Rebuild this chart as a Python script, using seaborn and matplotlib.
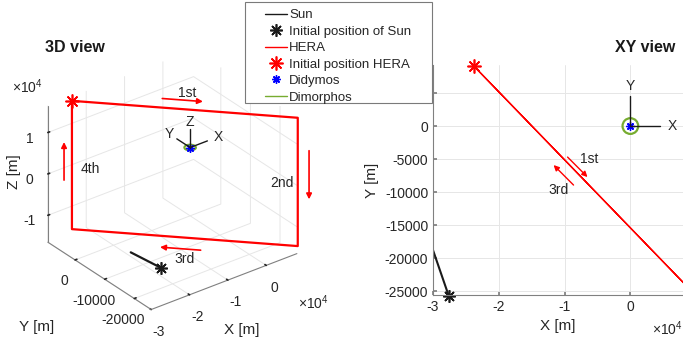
import matplotlib
matplotlib.use('Agg')
import matplotlib.pyplot as plt
import seaborn as sns
from matplotlib.lines import Line2D
from matplotlib.patches import Circle, Rectangle
from matplotlib.ticker import FuncFormatter
from mpl_toolkits.mplot3d import art3d, proj3d

# ---- values (metres) ----
hera_x = [-23800, 9000, 9000, -23800, -23800]
hera_y = [9100, -24700, -24700, 9100, 9100]
hera_z = [15500, 15500, -15500, -15500, 15500]

sun_x = [-27600, -30000]
sun_y = [-25750, -18800]
sun_z = [-7200, -5900]

didymos_xyz = [0, 0, 0]
dimorphos_radius = 1190
frame_len = 4500

legend_labels = ['Sun', 'Initial position of Sun', 'HERA',
                 'Initial position HERA', 'Didymos', 'Dimorphos']

x_lim = (-30000, 8000)
y_lim = (-25700, 9200)
z_lim = (-16500, 16500)

# leg labels: (t, z) start, (t, z) end, (t, z) text, t = fraction along 1st leg
legs_3d = {
    '1st': ((0.40, 17700), (0.58, 17700), (0.51, 19400)),
    '2nd': ((1.05, 7750), (1.05, -4000), (0.93, -500)),
    '3rd': ((0.57, -18250), (0.39, -18250), (0.50, -20600)),
    '4th': ((-0.035, -3800), (-0.035, 5400), (0.08, -650)),
}
legs_xy = {
    '1st': ((-9545, -4700), (-6515, -7730), (-6200, -5000)),
    '3rd': ((-8640, -8940), (-11670, -5910), (-10900, -9700)),
}

RED = (1, 0, 0)
BLUE = (0, 0, 1)
GREEN = (0.466, 0.674, 0.188)
AX_COL = '#808080'
TXT_COL = '#262626'
GRID_COL = '#e6e6e6'
ASTER = (8, 2, 0)

sns.set_theme(style='white')
plt.rcParams['font.family'] = ['Liberation Sans', 'DejaVu Sans']
plt.rcParams['axes.unicode_minus'] = False
plt.rcParams['mathtext.fontset'] = 'custom'
plt.rcParams['mathtext.rm'] = 'Liberation Sans'
plt.rcParams['grid.color'] = GRID_COL
plt.rcParams['grid.linewidth'] = 0.7
plt.rcParams['text.color'] = TXT_COL

W, H = 683, 344
fig = plt.figure(figsize=(W / 100, H / 100), dpi=100)


def px(x0, y0, w, h):
    # box in pixels from the top-left corner -> figure fraction
    return [x0 / W, 1 - (y0 + h) / H, w / W, h / H]


def fx(x, y):
    return x / W, 1 - y / H


tick_e4 = FuncFormatter(lambda v, p: f'{v / 1e4:g}')
tick_int = FuncFormatter(lambda v, p: f'{v:.0f}')

# ================= 3D view =================
ax3 = fig.add_axes(px(25, 40, 287, 287), projection='3d')
ax3.set_proj_type('ortho')
ax3.view_init(elev=30, azim=-127.5)
ax3.set_box_aspect((184, 170, 158))
ax3.set_xlim(*x_lim, view_margin=0)
ax3.set_ylim(*y_lim, view_margin=0)
ax3.set_zlim(*z_lim, view_margin=0)
ax3.patch.set_alpha(0)
ax3.grid(True)
for a in (ax3.xaxis, ax3.yaxis, ax3.zaxis):
    a.set_pane_color((1, 1, 1, 0))
    a.line.set_color(AX_COL)
    a.line.set_linewidth(0.8)
    a._axinfo['grid']['color'] = GRID_COL
    a._axinfo['grid']['linewidth'] = 0.7
    a._axinfo['tick']['color'] = AX_COL
    a._axinfo['tick']['inward_factor'] = 0.0
    a._axinfo['tick']['outward_factor'] = 0.15
ax3.set_xticks([-30000, -20000, -10000, 0])
ax3.set_yticks([-20000, -10000, 0])
ax3.set_zticks([-10000, 0, 10000])
ax3.xaxis.set_major_formatter(tick_e4)
ax3.yaxis.set_major_formatter(tick_int)
ax3.zaxis.set_major_formatter(tick_e4)
ax3.tick_params(labelsize=10, labelcolor=TXT_COL, pad=0)

ax3.plot(hera_x, hera_y, hera_z, color=RED, lw=1.6)
ax3.plot(sun_x, sun_y, sun_z, color='k', lw=1.6)
ax3.plot([hera_x[0]], [hera_y[0]], [hera_z[0]], ls='none', marker=ASTER,
         ms=10, color=RED, mew=1.2)
ax3.plot([sun_x[0]], [sun_y[0]], [sun_z[0]], ls='none', marker=ASTER,
         ms=9, color='k', mew=1.2)
orbit3 = Circle((0, 0), dimorphos_radius, fill=False, ec=GREEN, lw=1.5)
ax3.add_patch(orbit3)
art3d.pathpatch_2d_to_3d(orbit3, z=0, zdir='z')
ax3.plot(*[[v] for v in didymos_xyz], ls='none', marker=ASTER, ms=6, color=BLUE)
ax3.plot([0, frame_len], [0, 0], [0, 0], color='k', lw=1)
ax3.plot([0, 0], [0, frame_len], [0, 0], color='k', lw=1)
ax3.plot([0, 0], [0, 0], [0, frame_len], color='k', lw=1)
ax3.text(1.65 * frame_len, 0, 0, 'X', ha='center', va='center', fontsize=10)
ax3.text(0, 1.55 * frame_len, 0, 'Y', ha='center', va='center', fontsize=10)
ax3.text(0, 0, 1.35 * frame_len, 'Z', ha='center', va='center', fontsize=10)

M = ax3.get_proj()


def on_plane(t, z):
    return (hera_x[0] + t * (hera_x[1] - hera_x[0]),
            hera_y[0] + t * (hera_y[1] - hera_y[0]), z)


def to2d(p):
    x2, y2, _ = proj3d.proj_transform(*p, M)
    return float(x2), float(y2)


for name, (a, b, t) in legs_3d.items():
    ax3.annotate('', xy=to2d(on_plane(*b)), xytext=to2d(on_plane(*a)),
                 annotation_clip=False,
                 arrowprops=dict(arrowstyle='-|>', color=RED, lw=1.2,
                                 shrinkA=0, shrinkB=0, mutation_scale=8))
    ax3.text(*on_plane(*t), name, ha='center', va='center', fontsize=10)

fig.text(*fx(75, 47), '3D view', ha='center', va='center', fontsize=11.5,
         fontweight='bold', color='k')
fig.text(*fx(14, 172), 'Z [m]', rotation=90, ha='center', va='center', fontsize=11)
fig.text(*fx(37, 327), 'Y [m]', ha='center', va='center', fontsize=11)
fig.text(*fx(242, 330), 'X [m]', ha='center', va='center', fontsize=11)
fig.text(*fx(12, 87), r'$\times10^{4}$', ha='left', va='center', fontsize=10)
fig.text(*fx(298, 303), r'$\times10^{4}$', ha='left', va='center', fontsize=10)

# ================= XY view =================
ax2 = fig.add_axes(px(433, 65, 250, 230))
sns.lineplot(x=hera_x, y=hera_y, sort=False, estimator=None, color=RED,
             lw=1.0, ax=ax2)
sns.lineplot(x=sun_x, y=sun_y, sort=False, estimator=None, color='k',
             lw=1.5, ax=ax2)
ax2.plot(hera_x[0], hera_y[0], ls='none', marker=ASTER, ms=10, color=RED,
         mew=1.2, clip_on=False)
ax2.plot(sun_x[0], sun_y[0], ls='none', marker=ASTER, ms=9, color='k',
         mew=1.2, clip_on=False)
ax2.add_patch(Circle((0, 0), dimorphos_radius, fill=False, ec=GREEN, lw=1.6))
ax2.plot(0, 0, ls='none', marker=ASTER, ms=6, color=BLUE)
ax2.plot([0, frame_len], [0, 0], color='k', lw=1)
ax2.plot([0, 0], [0, frame_len], color='k', lw=1)
ax2.text(1.42 * frame_len, 0, 'X', ha='center', va='center', fontsize=10)
ax2.text(0, 1.35 * frame_len, 'Y', ha='center', va='center', fontsize=10)
for name, (a, b, t) in legs_xy.items():
    ax2.annotate('', xy=b, xytext=a,
                 arrowprops=dict(arrowstyle='-|>', color=RED, lw=1.0,
                                 shrinkA=0, shrinkB=0, mutation_scale=8))
    ax2.text(*t, name, ha='center', va='center', fontsize=10)

ax2.set_xlim(*x_lim)
ax2.set_ylim(-25600, 9250)
ax2.set_xticks([-30000, -20000, -10000, 0])
ax2.set_yticks(range(-25000, 5001, 5000))
ax2.xaxis.set_major_formatter(tick_e4)
ax2.yaxis.set_major_formatter(tick_int)
ax2.grid(True, color=GRID_COL, lw=0.7)
sns.despine(ax=ax2)
for s in ('left', 'bottom'):
    ax2.spines[s].set_color(AX_COL)
    ax2.spines[s].set_linewidth(0.8)
ax2.tick_params(bottom=True, left=True, direction='in', length=3,
                color=AX_COL, labelcolor=TXT_COL, labelsize=10)
ax2.set_xlabel('X [m]', fontsize=11, color=TXT_COL)
ax2.set_ylabel('Y [m]', fontsize=11, color=TXT_COL)
fig.text(*fx(645, 48), 'XY view', ha='center', va='center', fontsize=11.5,
         fontweight='bold', color='k')
fig.text(*fx(652, 329), r'$\times10^{4}$', ha='left', va='center', fontsize=10)

# ================= legend =================
fig.patches.append(Rectangle(fx(245, 103), 187 / W, 101 / H,
                             transform=fig.transFigure, fc='white',
                             ec='#7a7a7a', lw=0.8, zorder=4))
handles = [
    Line2D([], [], color='k', lw=1),
    Line2D([], [], ls='none', marker=ASTER, ms=9, color='k', mew=1.2),
    Line2D([], [], color=RED, lw=1),
    Line2D([], [], ls='none', marker=ASTER, ms=10, color=RED, mew=1.2),
    Line2D([], [], ls='none', marker=ASTER, ms=6, color=BLUE),
    Line2D([], [], color=GREEN, lw=1),
]
leg = fig.legend(handles, legend_labels, loc='upper left',
                 bbox_to_anchor=fx(265, 9), frameon=False, borderpad=0,
                 borderaxespad=0, handlelength=1.67, handletextpad=0.15,
                 labelspacing=0.32, fontsize=9.5)
leg.set_zorder(5)

fig.savefig('out.png', dpi=100)
